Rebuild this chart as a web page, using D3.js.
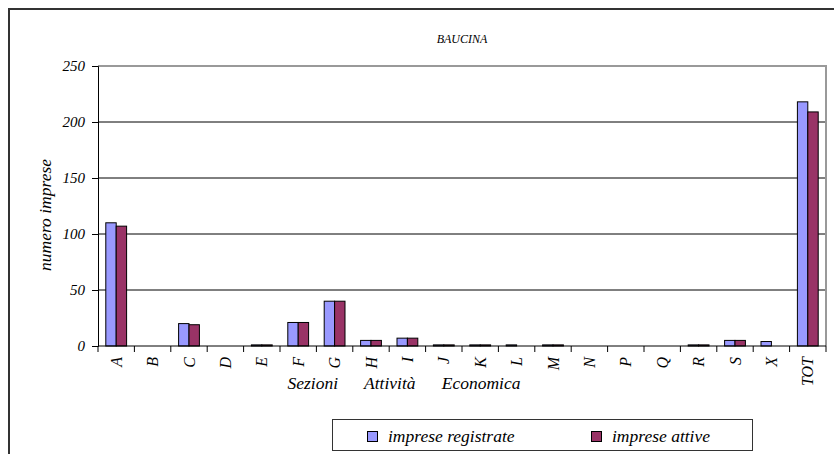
<!DOCTYPE html>
<html>
<head>
<meta charset="utf-8">
<script src="https://cdn.jsdelivr.net/npm/d3@7"></script>
<style>
  body { margin: 0; background: #fff; }
</style>
</head>
<body>
<div id="chart"></div>
<script>
// Bar chart: imprese registrate / attive per sezione di attività economica, Baucina

var categories = ["A", "B", "C", "D", "E", "F", "G", "H", "I", "J", "K", "L", "M", "N", "P", "Q", "R", "S", "X", "TOT"];
var registrate = [110, 0, 20, 0, 1, 21, 40, 5, 7, 1, 1, 1, 1, 0, 0, 0, 1, 5, 4, 218];
var attive = [107, 0, 19, 0, 1, 21, 40, 5, 7, 1, 1, 0, 1, 0, 0, 0, 1, 5, 0, 209];
var seriesNames = ["imprese registrate", "imprese attive"];
var seriesColors = ["#9999ff", "#993366"];
var yTicks = [0, 50, 100, 150, 200, 250];

(function() {
  var margin = { top: 66, left: 98, right: 8, bottom: 108 },
  width = 834 - margin.left - margin.right,
  height = 454 - margin.top - margin.bottom;

  function serif(sel, size) {
    return sel.style("font-family", "'Liberation Serif'")
              .style("font-style", "italic")
              .style("font-size", size)
              .attr("fill", "#000");
  }

  var svg = d3.select("#chart")
        .append("svg")
        .attr("width", 834)
        .attr("height", 454);

  // outer chart frame (only top and left edges are visible)
  svg.append("path")
      .attr("d", "M9,454V9H834")
      .attr("fill", "none")
      .attr("stroke", "#333")
      .attr("stroke-width", 2);

  svg.append("text")
      .attr("x", margin.left + width / 2)
      .attr("y", 43)
      .attr("text-anchor", "middle")
      .call(serif, "12px")
      .text("BAUCINA");

  var g = svg.append("g")
      .attr("transform", "translate(" + margin.left + "," + margin.top + ")");

  var datapoints = categories.map(function(c, i) {
    return { cat: c, values: [registrate[i], attive[i]] };
  });

  var xPositionScale = d3.scaleBand()
    .domain(categories)
    .range([0, width]);

  var bw = xPositionScale.bandwidth();
  var barW = bw / 3.5;

  var xInner = d3.scaleBand()
    .domain([0, 1])
    .range([(bw - 2 * barW) / 2, (bw + 2 * barW) / 2]);

  var yPositionScale = d3.scaleLinear()
    .domain([0, 250])
    .range([height, 0]);

  // gridlines
  g.selectAll(".grid")
      .data(yTicks.filter(function(d) { return d > 0 && d < 250; }))
      .enter().append("line")
      .attr("class", "grid")
      .attr("x1", 0)
      .attr("x2", width)
      .attr("y1", function(d) { return yPositionScale(d); })
      .attr("y2", function(d) { return yPositionScale(d); })
      .attr("stroke", "#000")
      .attr("stroke-width", 1);

  // plot area border (top + right)
  g.append("path")
      .attr("d", "M0," + yPositionScale(250) + "H" + width + "V" + height)
      .attr("fill", "none")
      .attr("stroke", "#999")
      .attr("stroke-width", 2);

  var groups = g.selectAll(".group")
      .data(datapoints)
      .enter().append("g")
      .attr("class", "group")
      .attr("transform", function(d) { return "translate(" + xPositionScale(d.cat) + ",0)"; });

  groups.selectAll("rect")
      .data(function(d) {
        return d.values.map(function(v, i) { return { v: v, i: i }; })
                       .filter(function(e) { return e.v > 0; });
      })
      .enter().append("rect")
      .attr("x", function(d) { return xInner(d.i); })
      .attr("y", function(d) { return yPositionScale(d.v); })
      .attr("width", xInner.bandwidth())
      .attr("height", function(d) { return height - yPositionScale(d.v); })
      .attr("fill", function(d) { return seriesColors[d.i]; })
      .attr("stroke", "#000")
      .attr("stroke-width", 1);

  // y axis
  var yAxis = d3.axisLeft(yPositionScale)
    .tickValues(yTicks)
    .tickSize(6)
    .tickPadding(7);

  var yG = g.append("g")
      .attr("class", "y axis")
      .call(yAxis);
  yG.select(".domain").attr("stroke", "#000");
  yG.selectAll("text").call(serif, "15px");

  // x axis with ticks at band boundaries
  g.append("line")
      .attr("x1", 0).attr("x2", width)
      .attr("y1", height).attr("y2", height)
      .attr("stroke", "#000");

  g.selectAll(".xtick")
      .data(categories.concat(["__end"]))
      .enter().append("line")
      .attr("class", "xtick")
      .attr("x1", function(d, i) { return i * bw; })
      .attr("x2", function(d, i) { return i * bw; })
      .attr("y1", height)
      .attr("y2", height + 6)
      .attr("stroke", "#000");

  g.selectAll(".xlabel")
      .data(categories)
      .enter().append("text")
      .attr("class", "xlabel")
      .attr("transform", function(d) {
        return "translate(" + (xPositionScale(d) + bw / 2) + "," + (height + 11) + ") rotate(-90)";
      })
      .attr("dy", "0.35em")
      .attr("text-anchor", "end")
      .call(serif, "16px")
      .text(function(d) { return d; });

  svg.append("text")
      .attr("x", 404)
      .attr("y", 389)
      .attr("text-anchor", "middle")
      .call(serif, "17.5px")
      .style("white-space", "pre")
      .text("Sezioni      Attività      Economica");

  svg.append("text")
      .attr("transform", "translate(51,215) rotate(-90)")
      .attr("text-anchor", "middle")
      .call(serif, "17.5px")
      .text("numero imprese");

  // legend
  var legend = svg.append("g").attr("class", "legend");
  legend.append("rect")
      .attr("x", 332.5).attr("y", 419.5)
      .attr("width", 420).attr("height", 31)
      .attr("fill", "#fff")
      .attr("stroke", "#333")
      .attr("stroke-width", 1);

  var legendX = [367, 591];
  var items = legend.selectAll(".item")
      .data(seriesNames)
      .enter().append("g")
      .attr("class", "item")
      .attr("transform", function(d, i) { return "translate(" + legendX[i] + ",431)"; });

  items.append("rect")
      .attr("x", 0.5).attr("y", 0.5)
      .attr("width", 10).attr("height", 10)
      .attr("fill", function(d, i) { return seriesColors[i]; })
      .attr("stroke", "#000");

  items.append("text")
      .attr("x", 21)
      .attr("y", 10.5)
      .call(serif, "17.5px")
      .text(function(d) { return d; });
})();
</script>
</body>
</html>
